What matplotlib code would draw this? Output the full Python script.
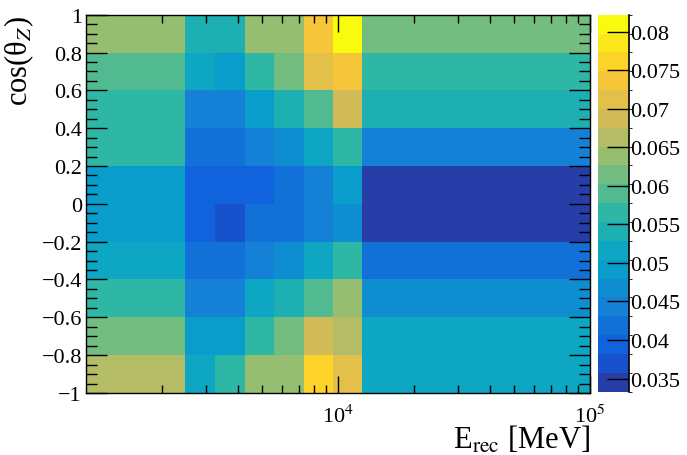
import numpy as np
import matplotlib
matplotlib.use('Agg')
import matplotlib.pyplot as plt
from matplotlib.colors import LinearSegmentedColormap, ListedColormap, BoundaryNorm

plt.rcParams['font.family'] = ['Liberation Serif', 'DejaVu Serif']
plt.rcParams['mathtext.fontset'] = 'stix'

# bin edges
e_edges = [1000, 2480, 3260, 4260, 5570, 7300, 9550, 12500, 100000]
cos_edges = [-1.0, -0.8, -0.6, -0.4, -0.2, 0.0, 0.2, 0.4, 0.6, 0.8, 1.0]

# cell values, rows from cos=-1 (bottom) to cos=1 (top)
row_m09 = [0.0663, 0.0517, 0.0566, 0.0639, 0.0639, 0.0761, 0.0712, 0.0517]
row_m07 = [0.0614, 0.0492, 0.0492, 0.0566, 0.0614, 0.0688, 0.0663, 0.0517]
row_m05 = [0.0566, 0.0443, 0.0443, 0.0517, 0.0541, 0.0590, 0.0639, 0.0468]
row_m03 = [0.0517, 0.0419, 0.0419, 0.0443, 0.0468, 0.0517, 0.0566, 0.0419]
row_m01 = [0.0492, 0.0394, 0.0370, 0.0419, 0.0419, 0.0443, 0.0468, 0.0333]
row_p01 = [0.0492, 0.0394, 0.0394, 0.0394, 0.0419, 0.0443, 0.0492, 0.0333]
row_p03 = [0.0566, 0.0419, 0.0419, 0.0443, 0.0468, 0.0517, 0.0566, 0.0443]
row_p05 = [0.0566, 0.0443, 0.0443, 0.0492, 0.0541, 0.0590, 0.0688, 0.0541]
row_p07 = [0.0590, 0.0517, 0.0492, 0.0566, 0.0614, 0.0712, 0.0737, 0.0566]
row_p09 = [0.0639, 0.0541, 0.0541, 0.0639, 0.0639, 0.0737, 0.0822, 0.0614]

y_ticks = [-1, -0.8, -0.6, -0.4, -0.2, 0, 0.2, 0.4, 0.6, 0.8, 1]
y_labels = ['\u22121', '\u22120.8', '\u22120.6', '\u22120.4', '\u22120.2', '0',
            '0.2', '0.4', '0.6', '0.8', '1']
z_ticks = [0.035, 0.04, 0.045, 0.05, 0.055, 0.06, 0.065, 0.07, 0.075, 0.08]
z_labels = ['0.035', '0.04', '0.045', '0.05', '0.055', '0.06', '0.065', '0.07', '0.075', '0.08']

z = np.array([row_m09, row_m07, row_m05, row_m03, row_m01,
              row_p01, row_p03, row_p05, row_p07, row_p09])

# ROOT kBird palette, 20 contour levels
stops = [0.0, 0.125, 0.25, 0.375, 0.5, 0.625, 0.75, 0.875, 1.0]
red = [0.2082, 0.0592, 0.0780, 0.0232, 0.1802, 0.5301, 0.8186, 0.9956, 0.9764]
green = [0.1664, 0.3599, 0.5041, 0.6419, 0.7178, 0.7492, 0.7328, 0.7862, 0.9832]
blue = [0.5293, 0.8684, 0.8385, 0.7914, 0.6425, 0.4662, 0.3499, 0.1968, 0.0539]
bird = LinearSegmentedColormap.from_list(
    'bird', list(zip(stops, zip(red, green, blue))), N=255)
ncont = 20
cmap = ListedColormap([bird((i + 0.99) / ncont) for i in range(ncont)])
levels = np.linspace(z.min(), z.max(), ncont + 1)
norm = BoundaryNorm(levels, ncont)

fig = plt.figure(figsize=(6.87, 4.56), dpi=100)
ax = fig.add_axes([0.1252, 0.136, 0.7336, 0.8296])
cax = fig.add_axes([0.8705, 0.1388, 0.0451, 0.8268])

mesh = ax.pcolormesh(e_edges, cos_edges, z, cmap=cmap, norm=norm)
ax.set_xscale('log')
ax.set_xlim(1000, 100000)
ax.set_ylim(-1, 1)

ax.set_xticks([1e4, 1e5])
ax.set_xticklabels(['10$^{4}$', '10$^{5}$'])
ax.set_xticks([k * 10 ** d for d in (3, 4) for k in range(2, 10)], minor=True)
ax.set_yticks(y_ticks)
ax.set_yticklabels(y_labels)
ax.set_yticks(np.arange(-1, 1.001, 0.05), minor=True)

ax.tick_params(which='both', direction='in', top=True, right=True,
               labelsize=16, width=1, pad=3)
ax.tick_params(axis='y', which='major', length=15)
ax.tick_params(axis='y', which='minor', length=8)
ax.tick_params(axis='x', which='major', length=12, pad=8)
ax.tick_params(axis='x', which='minor', length=6)
for s in ax.spines.values():
    s.set_linewidth(1)

ax.set_xlabel('E$_{\\mathrm{rec}}$ [MeV]', fontsize=22, loc='right', labelpad=-2)
ax.set_ylabel('cos(\u03b8$_{Z}$)', fontsize=22, loc='top', labelpad=4)

cb = fig.colorbar(mesh, cax=cax, ticks=z_ticks)
cb.outline.set_visible(False)
cax.set_yticklabels(z_labels)
cax.tick_params(direction='in', length=16, width=1, labelsize=16, pad=1)
cax.axvline(1, color='black', lw=1.2, clip_on=False)

fig.savefig('out.png', dpi=100)
